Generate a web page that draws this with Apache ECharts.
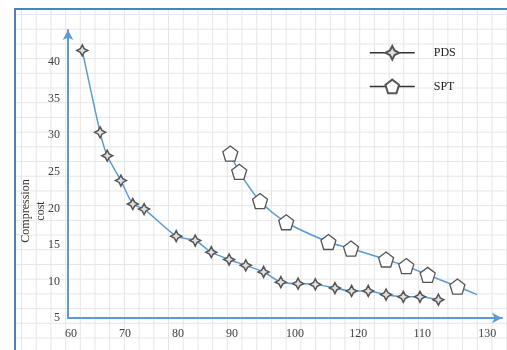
<!DOCTYPE html>
<html>
<head>
<meta charset="utf-8">
<script src="https://cdn.jsdelivr.net/npm/echarts@6/dist/echarts.min.js"></script>
<style>
  html, body { margin: 0; padding: 0; background: #fff; overflow: hidden; width: 507px; height: 350px; }
  #paper {
    position: absolute; left: 14px; top: 8px; width: 520px; height: 360px;
    border-left: 2px solid #4f81bd; border-top: 2px solid #4f81bd;
    background-image:
      linear-gradient(to right, #e6e6e6 1px, transparent 1px),
      linear-gradient(to bottom, #e6e6e6 1px, transparent 1px);
    background-size: 14.71px 14.71px;
    background-position: 5px 4px;
  }
  #main { position: absolute; left: 0; top: 0; width: 507px; height: 350px; }
</style>
</head>
<body>
<div id="paper"></div>
<div id="main"></div>
<script>
// tick labels as printed in the figure (note the 120 / 110 order)
var xTickAt = [60, 69.1, 78.0, 87.1, 97.7, 108.3, 119.1, 130];
var xTickText = ['60', '70', '80', '90', '100', '120', '110', '130'];
var yTicks = [5, 10, 15, 20, 25, 30, 35, 40];

// PDS
var pdsX = [61.9, 64.9, 66.1, 68.4, 70.4, 72.3, 77.7, 80.9, 83.6, 86.6, 89.4,
            92.4, 95.3, 98.2, 101.1, 104.4, 107.2, 110.0, 113.0, 115.9, 118.7, 121.8];
var pdsY = [41.6, 30.4, 27.2, 23.8, 20.6, 19.9, 16.2, 15.6, 14.0, 13.0, 12.2,
            11.3, 9.9, 9.7, 9.6, 9.1, 8.7, 8.7, 8.2, 7.9, 7.9, 7.5];

// SPT
var sptX = [86.8, 88.3, 91.8, 96.2, 103.3, 107.1, 113.0, 116.4, 120.0, 125.0];
var sptY = [27.5, 25.0, 21.0, 18.1, 15.4, 14.5, 13.0, 12.1, 10.9, 9.3];
// the SPT curve runs on past its last marker
var sptTailX = 128.3;
var sptTailY = 8.2;

var starPath = 'path://M0,-10 L3.4,-3.4 L10,0 L3.4,3.4 L0,10 L-3.4,3.4 L-10,0 L-3.4,-3.4 Z';
var pentaPath = 'path://M0,-10 L9.51,-3.09 L5.88,8.09 L-5.88,8.09 L-9.51,-3.09 Z';

var font = 'Liberation Serif';

var chart = echarts.init(document.getElementById('main'));

var pdsData = pdsX.map(function (x, i) { return [x, pdsY[i]]; });
var sptData = sptX.map(function (x, i) { return [x, sptY[i]]; });
sptData.push({ value: [sptTailX, sptTailY], symbol: 'none' });

option = {
    animation: false,
    backgroundColor: 'transparent',
    grid: {
        left: 68, right: 5, top: 30, bottom: 32,
        containLabel: false,
        outerBoundsMode: 'none'
    },
    legend: {
        orient: 'vertical',
        left: 364,
        top: 40,
        itemWidth: 45,
        itemHeight: 17,
        itemGap: 18,
        textStyle: {
            fontFamily: font,
            fontSize: 12,
            color: '#222',
            padding: [0, 0, 0, 14]
        },
        lineStyle: { color: '#333', width: 1.5 },
        data: ['PDS', 'SPT']
    },
    xAxis: {
        type: 'value',
        min: 59.5,
        max: 132.5,
        splitLine: { show: false },
        axisTick: { show: false },
        axisLine: {
            lineStyle: { color: '#5b9bd5', width: 2 },
            symbol: ['none', 'arrow'],
            symbolSize: [8, 10]
        },
        axisLabel: {
            customValues: xTickAt,
            margin: 10,
            fontFamily: font,
            fontSize: 12,
            color: '#404040',
            formatter: function (v) {
                for (var i = 0; i < xTickAt.length; i++) {
                    if (Math.abs(xTickAt[i] - v) < 0.01) return xTickText[i];
                }
                return '';
            }
        }
    },
    yAxis: {
        type: 'value',
        min: 5,
        max: 44.4,
        name: 'Compression\ncost',
        nameLocation: 'middle',
        nameRotate: 90,
        nameGap: 20,
        nameMoveOverlap: false,
        nameTextStyle: {
            fontFamily: font,
            fontSize: 12,
            color: '#333',
            lineHeight: 15,
            padding: [0, 74, 0, 0]
        },
        splitLine: { show: false },
        axisTick: { show: false },
        axisLine: {
            lineStyle: { color: '#5b9bd5', width: 2 },
            symbol: ['none', 'arrow'],
            symbolSize: [8, 10]
        },
        axisLabel: {
            customValues: yTicks,
            margin: 8,
            fontFamily: font,
            fontSize: 12,
            color: '#404040'
        }
    },
    series: [
        {
            name: 'PDS',
            type: 'line',
            smooth: 0.25,
            symbol: starPath,
            symbolSize: 11,
            lineStyle: { color: '#5b9bd5', width: 1.5 },
            itemStyle: { color: '#e0e0e0', borderColor: '#555', borderWidth: 1.5 },
            data: pdsData
        },
        {
            name: 'SPT',
            type: 'line',
            smooth: 0.3,
            symbol: pentaPath,
            symbolSize: 15,
            lineStyle: { color: '#5b9bd5', width: 1.5 },
            itemStyle: { color: '#fff', borderColor: '#555', borderWidth: 1.3 },
            data: sptData
        }
    ]
};
chart.setOption(option);
window.onresize = chart.resize;
</script>
</body>
</html>
